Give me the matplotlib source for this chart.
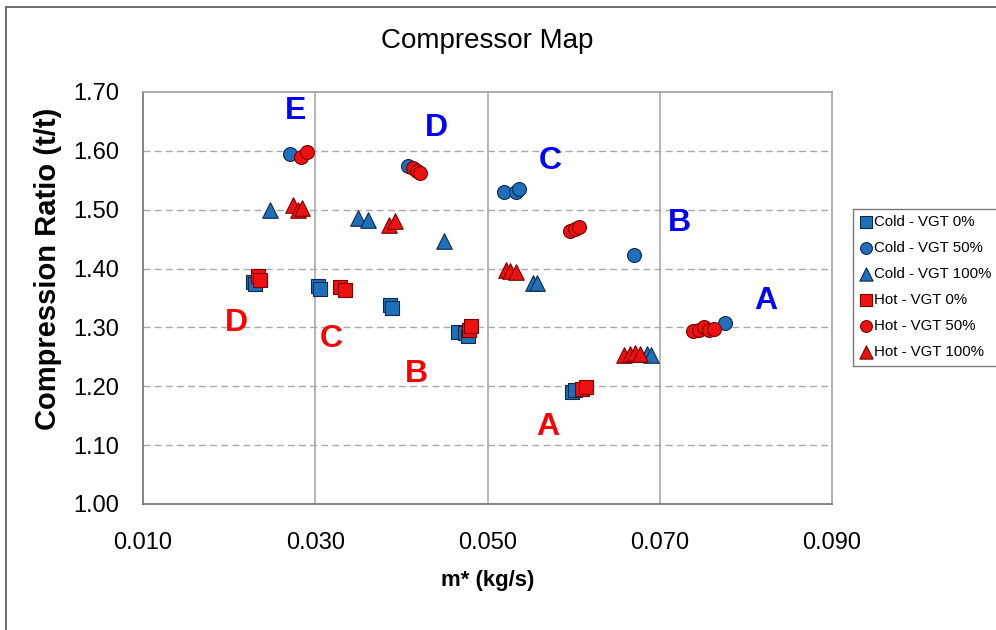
import matplotlib.pyplot as plt
from matplotlib.patches import Rectangle

# compressor map points
cold_vgt0_x = [0.0228, 0.0230, 0.0303, 0.0306, 0.0387, 0.0389, 0.0466, 0.0474, 0.0477, 0.0598, 0.0602]
cold_vgt0_y = [1.378, 1.374, 1.370, 1.366, 1.338, 1.333, 1.293, 1.290, 1.285, 1.191, 1.193]
cold_vgt50_x = [0.0271, 0.0408, 0.0519, 0.0533, 0.0536, 0.0670, 0.0776]
cold_vgt50_y = [1.595, 1.574, 1.530, 1.530, 1.535, 1.423, 1.307]
cold_vgt100_x = [0.0248, 0.0350, 0.0361, 0.0449, 0.0553, 0.0558, 0.0685, 0.0690]
cold_vgt100_y = [1.500, 1.486, 1.482, 1.447, 1.376, 1.376, 1.255, 1.253]
hot_vgt0_x = [0.0233, 0.0236, 0.0329, 0.0334, 0.0478, 0.0481, 0.0610, 0.0614]
hot_vgt0_y = [1.387, 1.380, 1.369, 1.364, 1.296, 1.302, 1.195, 1.199]
hot_vgt50_x = [0.0283, 0.0290, 0.0413, 0.0418, 0.0421, 0.0596, 0.0601, 0.0606,
               0.0738, 0.0745, 0.0751, 0.0757, 0.0763]
hot_vgt50_y = [1.589, 1.598, 1.570, 1.566, 1.562, 1.463, 1.467, 1.471,
               1.294, 1.296, 1.300, 1.295, 1.298]
hot_vgt100_x = [0.0274, 0.0280, 0.0285, 0.0386, 0.0393, 0.0521, 0.0526, 0.0533,
                0.0659, 0.0665, 0.0671, 0.0677]
hot_vgt100_y = [1.508, 1.500, 1.503, 1.474, 1.480, 1.397, 1.396, 1.394,
                1.253, 1.254, 1.257, 1.254]

# operating point letters
blue_letters = ['E', 'D', 'C', 'B', 'A']
blue_letter_x = [0.0277, 0.0441, 0.0573, 0.0723, 0.0823]
blue_letter_y = [1.668, 1.639, 1.583, 1.478, 1.345]
red_letters = ['D', 'C', 'B', 'A']
red_letter_x = [0.0208, 0.0319, 0.0418, 0.0570]
red_letter_y = [1.308, 1.281, 1.221, 1.131]

blue = '#1f6fba'
red = '#ee1111'

plt.rcParams['font.family'] = ['Liberation Sans', 'DejaVu Sans']

fig = plt.figure(figsize=(9.96, 6.3), dpi=100)
ax = fig.add_axes([0.1436, 0.200, 0.6918, 0.654])

# outer chart frame (runs off the right/bottom of the picture)
fig.patches.append(Rectangle((0.006, -0.05), 1.2, 1.039, transform=fig.transFigure,
                             fill=False, edgecolor='#555555', linewidth=1.2))

sq, ci, tr = 100, 100, 125
ax.scatter(cold_vgt0_x, cold_vgt0_y, marker='s', s=sq, color=blue, edgecolor='#0a2a4a', linewidth=0.8, label='Cold - VGT 0%', zorder=3)
ax.scatter(cold_vgt50_x, cold_vgt50_y, marker='o', s=ci, color=blue, edgecolor='#0a2a4a', linewidth=0.8, label='Cold - VGT 50%', zorder=3)
ax.scatter(cold_vgt100_x, cold_vgt100_y, marker='^', s=tr, color=blue, edgecolor='#0a2a4a', linewidth=0.8, label='Cold - VGT 100%', zorder=3)
ax.scatter(hot_vgt0_x, hot_vgt0_y, marker='s', s=sq, color=red, edgecolor='#7a0000', linewidth=0.8, label='Hot - VGT 0%', zorder=3)
ax.scatter(hot_vgt50_x, hot_vgt50_y, marker='o', s=ci, color=red, edgecolor='#7a0000', linewidth=0.8, label='Hot - VGT 50%', zorder=3)
ax.scatter(hot_vgt100_x, hot_vgt100_y, marker='^', s=tr, color=red, edgecolor='#7a0000', linewidth=0.8, label='Hot - VGT 100%', zorder=3)

for t, x, y in zip(blue_letters, blue_letter_x, blue_letter_y):
    ax.text(x, y, t, color='#0000ff', fontsize=23, fontweight='bold', ha='center', va='center')
for t, x, y in zip(red_letters, red_letter_x, red_letter_y):
    ax.text(x, y, t, color='#ff0000', fontsize=23, fontweight='bold', ha='center', va='center')

ax.set_xlim(0.010, 0.090)
ax.set_ylim(1.00, 1.70)
ax.set_xticks([0.010, 0.030, 0.050, 0.070, 0.090])
ax.set_xticklabels(['0.010', '0.030', '0.050', '0.070', '0.090'])
ax.set_yticks([1.00, 1.10, 1.20, 1.30, 1.40, 1.50, 1.60, 1.70])
ax.set_yticklabels(['%.2f' % v for v in [1.00, 1.10, 1.20, 1.30, 1.40, 1.50, 1.60, 1.70]])
ax.tick_params(length=0, labelsize=17)
ax.tick_params(axis='y', pad=17)
ax.tick_params(axis='x', pad=20)

for v in [0.030, 0.050, 0.070]:
    ax.axvline(v, color='#b0b0b0', linewidth=1.3, zorder=1)
for v in [1.10, 1.20, 1.30, 1.40, 1.50, 1.60]:
    ax.axhline(v, color='#a8a8a8', linewidth=1.0, linestyle=(0, (5, 3)), zorder=1)

for side in ['top', 'right']:
    ax.spines[side].set_color('#a0a0a0')
for side in ['left', 'bottom']:
    ax.spines[side].set_color('#707070')
for s in ax.spines.values():
    s.set_linewidth(1.2)

ax.set_title('Compressor Map', fontsize=20, pad=32)
ax.set_xlabel('m* (kg/s)', fontsize=16, fontweight='bold', labelpad=12)
ax.set_ylabel('Compression Ratio (t/t)', fontsize=21, fontweight='bold')
ax.yaxis.set_label_coords(-0.118, 0.57)

leg = ax.legend(loc='upper left', bbox_to_anchor=(1.0305, 0.717), fontsize=10.8, frameon=True,
                fancybox=False, edgecolor='#555555', handletextpad=0.15, handlelength=0.8,
                markerscale=0.85, labelspacing=0.8, borderpad=0.45, borderaxespad=0)
leg.get_frame().set_linewidth(1.0)

fig.savefig('out.png', dpi=100)
